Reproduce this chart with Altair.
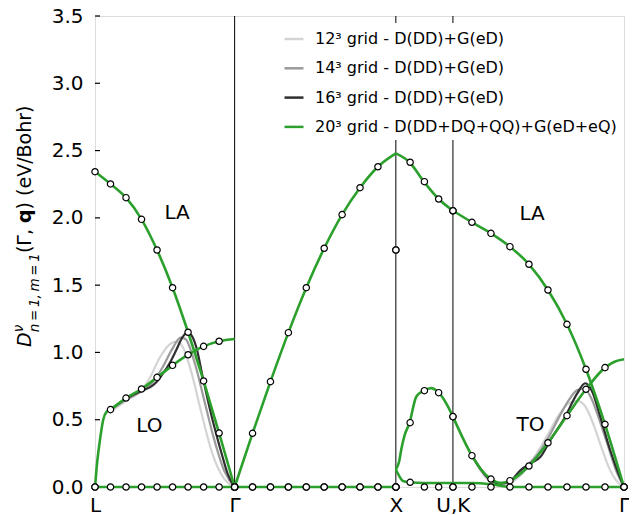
import altair as alt
import pandas as pd

# ---------------- path geometry (FCC high-symmetry path) ----------------
SEG_LENGTHS = [0.866, 1.0, 0.354, 1.061]      # L-Γ, Γ-X, X-U, K-Γ
SEG_STEPS = [9, 9, 4, 9]                      # reference q-points per segment
SEG_START = [0.0, 0.866, 1.866, 2.220]
TICK_POS = [0.0, 0.866, 1.866, 2.220, 3.281]
TICK_LABELS = ["L", "Γ", "X", "U,K", "Γ"]
VLINES = [0.866, 1.866, 2.220]
Y_TICKS = [0.0, 0.5, 1.0, 1.5, 2.0, 2.5, 3.0, 3.5]

SERIES = [
    "12³ grid - D(DD)+G(eD)",
    "14³ grid - D(DD)+G(eD)",
    "16³ grid - D(DD)+G(eD)",
    "20³ grid - D(DD+DQ+QQ)+G(eD+eQ)",
]
COLORS = ["#d4d4d4", "#9b9b9b", "#2f2f2f", "#2ca02c"]

# ---------------- reference points (open circles), 3 bands per node ----------------
MK_LG = [
    [0, 0, 0, 0, 0, 0, 0, 0, 0, 0],
    [0, 0.575, 0.661, 0.728, 0.815, 0.904, 0.983, 1.045, 1.083, 0],
    [2.343, 2.252, 2.150, 1.989, 1.761, 1.481, 1.150, 0.788, 0.401, 0],
]
MK_GX = [
    [0, 0, 0, 0, 0, 0, 0, 0, 0, 0],
    [0, 0, 0, 0, 0, 0, 0, 0, 0, 0],
    [0, 0.399, 0.783, 1.147, 1.481, 1.774, 2.024, 2.224, 2.380, 1.761],
]
MK_XU = [
    [0, 0.035, 0, 0, 0],
    [0, 0.478, 0.716, 0.701, 0.523],
    [1.761, 2.413, 2.269, 2.140, 2.053],
]
MK_KG = [
    [0, 0, 0, 0, 0, 0, 0, 0, 0, 0],
    [0.523, 0.233, 0.059, 0.047, 0.156, 0.329, 0.530, 0.726, 0.887, 0],
    [2.053, 1.967, 1.885, 1.786, 1.655, 1.464, 1.209, 0.875, 0.466, 0],
]
MARKERS = [MK_LG, MK_GX, MK_XU, MK_KG]

# ---------------- 20^3 model curves (u = position in q-point steps) ----------------
G_LG_B1_U = [0, 9]
G_LG_B1_Y = [0, 0]
G_LG_B2_U = [0, 0.11, 0.32, 0.53, 0.75, 1, 2, 3, 4, 5, 6, 7, 8, 9]
G_LG_B2_Y = [0, 0.15, 0.35, 0.50, 0.56, 0.577, 0.661, 0.728, 0.815, 0.904, 0.983, 1.045, 1.083, 1.10]
G_LG_B3_U = [0, 1, 2, 3, 4, 5, 6, 7, 8, 9]
G_LG_B3_Y = [2.343, 2.252, 2.150, 1.989, 1.761, 1.481, 1.150, 0.788, 0.401, 0.0]

G_GX_B1_U = [0, 9]
G_GX_B1_Y = [0, 0]
G_GX_B3_U = [0, 1, 2, 3, 4, 5, 6, 7, 8, 9]
G_GX_B3_Y = [0, 0.399, 0.783, 1.147, 1.481, 1.774, 2.024, 2.224, 2.380, 2.479]

G_XU_B1_U = [0, 0.26, 0.49, 0.96, 2, 3, 4]
G_XU_B1_Y = [0.13, 0.077, 0.045, 0.035, 0.03, 0.03, 0.03]
G_XU_B2_U = [0, 0.23, 0.4, 0.6, 0.96, 1.43, 1.96, 2.48, 3, 3.53, 4]
G_XU_B2_Y = [0.13, 0.19, 0.29, 0.38, 0.478, 0.671, 0.716, 0.735, 0.701, 0.622, 0.523]
G_XU_B3_U = [0, 0.96, 1.96, 3, 4]
G_XU_B3_Y = [2.479, 2.413, 2.269, 2.140, 2.053]

G_KG_B1_U = [0, 1, 2, 2.5, 3, 9]
G_KG_B1_Y = [0.03, 0.03, 0.02, 0.01, 0, 0]
G_KG_B2_U = [0, 1, 1.5, 2, 2.5, 3, 4, 5, 6, 7, 8, 8.5, 9]
G_KG_B2_Y = [0.523, 0.233, 0.126, 0.059, 0.03, 0.047, 0.156, 0.329, 0.530, 0.726, 0.887, 0.931, 0.949]
G_KG_B3_U = [0, 1, 2, 3, 4, 5, 6, 7, 8, 9]
G_KG_B3_Y = [2.053, 1.967, 1.885, 1.786, 1.655, 1.464, 1.209, 0.875, 0.466, 0]

# ---------------- coarser grids: where they depart from the 20^3 curve ----------------
C12_LG_U = [1, 2, 3, 3.53, 4.17, 4.81, 5.26, 5.71, 6.22, 6.86, 7.56, 8.33, 9]
C12_LG_Y = [0.56, 0.64, 0.72, 0.81, 0.96, 1.06, 1.08, 1.03, 0.85, 0.55, 0.25, 0.06, 0]
C14_LG_U = [1, 2, 3, 3.65, 4.36, 5, 5.51, 5.83, 6.41, 7.05, 7.69, 8.33, 9]
C14_LG_Y = [0.57, 0.65, 0.71, 0.77, 0.89, 1.03, 1.11, 1.10, 0.93, 0.64, 0.35, 0.12, 0]
C16_LG_U = [1, 2, 3, 3.53, 3.97, 4.36, 4.81, 5.24, 5.66, 5.94, 6.2, 6.52, 6.94, 7.37, 7.8, 8.22, 8.54, 9]
C16_LG_Y = [0.577, 0.655, 0.715, 0.74, 0.78, 0.84, 0.92, 1.018, 1.117, 1.147, 1.13, 1.043, 0.82, 0.597, 0.399, 0.225, 0.102, 0]

C12_KG_U = [1, 1.99, 2.51, 2.98, 3.51, 3.98, 4.5, 5.03, 5.55, 6.07, 6.54, 6.96, 7.38, 7.8, 8.22, 8.64, 9]
C12_KG_Y = [0.233, 0.04, 0.02, 0.03, 0.08, 0.16, 0.27, 0.40, 0.53, 0.62, 0.64, 0.60, 0.47, 0.30, 0.14, 0.04, 0]
C14_KG_U = [1, 1.99, 2.51, 2.98, 3.51, 3.98, 4.5, 5.03, 5.55, 6.07, 6.54, 6.91, 7.28, 7.7, 8.17, 8.59, 9]
C14_KG_Y = [0.233, 0.05, 0.03, 0.04, 0.10, 0.17, 0.25, 0.37, 0.51, 0.64, 0.72, 0.73, 0.66, 0.50, 0.30, 0.12, 0]
C16_KG_U = [1, 1.99, 2.51, 2.98, 3.56, 4.08, 4.61, 5.13, 5.86, 6.54, 6.96, 7.33, 7.75, 8.27, 8.64, 9]
C16_KG_Y = [0.233, 0.05, 0.025, 0.04, 0.126, 0.176, 0.225, 0.35, 0.51, 0.696, 0.771, 0.708, 0.522, 0.275, 0.126, 0]

ANNOT_TEXT = ["LA", "LO", "LA", "TO"]
ANNOT_X = [0.509, 0.337, 2.711, 2.701]
ANNOT_Y = [2.036, 0.457, 2.030, 0.458]

# y-axis title pieces (math-style label): text, size, style, weight, baseline shift
YT_TEXT = ["D", "ν", "n\u2009=\u20091,\u2009m\u2009=\u20091", "(Γ, ", "q", ") (eV/Bohr)"]
YT_SIZE = [19, 13.5, 13.5, 19, 19, 19]
YT_STYLE = ["italic", "italic", "italic", "normal", "normal", "normal"]
YT_WEIGHT = ["normal", "normal", "normal", "normal", "bold", "normal"]
YT_EM = [0.770, 0.60, 5.874, 1.583, 0.716, 5.468]   # advance widths (em) of each piece
YT_SHIFT = [0, -8, 8, 0, 0, 0]                      # baseline shift (px)

# ---------------- build tables ----------------
def to_x(seg, u):
    return SEG_START[seg] + SEG_LENGTHS[seg] * u / SEG_STEPS[seg]

LINES = [
    (3, 0, "b1", G_LG_B1_U, G_LG_B1_Y), (3, 0, "b2", G_LG_B2_U, G_LG_B2_Y), (3, 0, "b3", G_LG_B3_U, G_LG_B3_Y),
    (3, 1, "b1", G_GX_B1_U, G_GX_B1_Y), (3, 1, "b3", G_GX_B3_U, G_GX_B3_Y),
    (3, 2, "b1", G_XU_B1_U, G_XU_B1_Y), (3, 2, "b2", G_XU_B2_U, G_XU_B2_Y), (3, 2, "b3", G_XU_B3_U, G_XU_B3_Y),
    (3, 3, "b1", G_KG_B1_U, G_KG_B1_Y), (3, 3, "b2", G_KG_B2_U, G_KG_B2_Y), (3, 3, "b3", G_KG_B3_U, G_KG_B3_Y),
    (0, 0, "b2", C12_LG_U, C12_LG_Y), (1, 0, "b2", C14_LG_U, C14_LG_Y), (2, 0, "b2", C16_LG_U, C16_LG_Y),
    (0, 3, "b2", C12_KG_U, C12_KG_Y), (1, 3, "b2", C14_KG_U, C14_KG_Y), (2, 3, "b2", C16_KG_U, C16_KG_Y),
]

rows = []
for s, seg, band, us, ys in LINES:
    for u, y in zip(us, ys):
        rows.append({"series": SERIES[s], "line": f"{s}-{seg}-{band}", "x": to_x(seg, u), "y": y})
lines_df = pd.DataFrame(rows)

mrows = []
for seg, bands in enumerate(MARKERS):
    for b in bands:
        for i, y in enumerate(b):
            mrows.append({"x": to_x(seg, i), "y": y})
mk_df = pd.DataFrame(mrows)

vl_df = pd.DataFrame({"x": VLINES})
tk_df = pd.DataFrame({"y": Y_TICKS})
an_df = pd.DataFrame({"t": ANNOT_TEXT, "x": ANNOT_X, "y": ANNOT_Y})

FONT = "DejaVu Sans"
PLOT_W, PLOT_H = 529, 471
label_expr = " : ".join(
    [f"abs(datum.value - {p}) < 0.01 ? '{l}'" for p, l in zip(TICK_POS, TICK_LABELS)]
) + " : ''"

xscale = alt.Scale(domain=[0, 3.281], nice=False, zero=False)
yscale = alt.Scale(domain=[0, 3.5], nice=False)

X = alt.X("x:Q", scale=xscale, axis=alt.Axis(
    values=TICK_POS, labelExpr=label_expr, labelFontSize=20, labelFont=FONT, labelColor="black",
    ticks=False, domain=False, grid=False, labelPadding=8, labelFlush=False, labelOverlap=False, title=None))
Y = alt.Y("y:Q", scale=yscale, axis=alt.Axis(
    values=Y_TICKS, format=".1f", labelFontSize=20, labelFont=FONT, labelColor="black",
    ticks=False, domain=False, grid=False, labelPadding=12, title=None))

legend = alt.Legend(
    title=None, orient="none", legendX=183, legendY=7, fillColor="white", padding=5,
    labelFontSize=16, labelFont=FONT, labelColor="black", symbolType="stroke", symbolSize=361,
    symbolStrokeWidth=2.5, rowPadding=10.3, labelOffset=10, labelLimit=500)
color = alt.Color("series:N", scale=alt.Scale(domain=SERIES, range=COLORS), legend=legend)

vrules = alt.Chart(vl_df).mark_rule(color="black", strokeWidth=1).encode(x=alt.X("x:Q", scale=xscale))
yticks = alt.Chart(tk_df).mark_rule(color="black", strokeWidth=1.2).encode(
    y=alt.Y("y:Q", scale=yscale), x=alt.value(0), x2=alt.value(5))

grey = alt.Chart(lines_df).transform_filter(
    alt.FieldOneOfPredicate(field="series", oneOf=SERIES[:3])
).mark_line(strokeWidth=2.2, interpolate="monotone").encode(x=X, y=Y, color=color, detail="line:N")

green = alt.Chart(lines_df).transform_filter(
    alt.FieldEqualPredicate(field="series", equal=SERIES[3])
).mark_line(strokeWidth=2.6, interpolate="monotone").encode(x=X, y=Y, color=color, detail="line:N")

pts = alt.Chart(mk_df).mark_point(shape="circle", filled=True, fill="white", stroke="black",
                                  strokeWidth=1.2, size=40, opacity=1).encode(
    x=alt.X("x:Q", scale=xscale), y=alt.Y("y:Q", scale=yscale))

ann = alt.Chart(an_df).mark_text(fontSize=20, font=FONT, color="black", align="center", baseline="middle").encode(
    x=alt.X("x:Q", scale=xscale), y=alt.Y("y:Q", scale=yscale), text="t:N")

# composed y-axis title, drawn bottom-to-top to the left of the plot
title_layers = []
base_x = -64          # baseline position relative to plot's left edge
pos = 331             # start (bottom) of the label relative to plot top
advance = 0
for i, txt in enumerate(YT_TEXT):
    start = pos - advance
    title_layers.append(
        alt.Chart(pd.DataFrame({"t": [txt]})).mark_text(
            angle=270, align="left", baseline="alphabetic", font=FONT,
            fontSize=YT_SIZE[i], fontStyle=YT_STYLE[i], fontWeight=YT_WEIGHT[i], color="black"
        ).encode(text="t:N", x=alt.value(base_x + YT_SHIFT[i]), y=alt.value(start))
    )
    if i == 1:
        continue  # superscript and subscript both start after "D"
    advance += YT_EM[i] * YT_SIZE[i]

chart = alt.layer(vrules, yticks, grey, green, pts, ann, *title_layers).properties(
    width=PLOT_W, height=PLOT_H,
    autosize=alt.AutoSizeParams(type="none"),
    padding={"left": 87, "top": 8, "right": 5, "bottom": 28},
).configure_view(stroke="black", strokeWidth=1.6).configure(background="white")

chart.save("out.html", embed_options={"renderer": "svg", "actions": False})
